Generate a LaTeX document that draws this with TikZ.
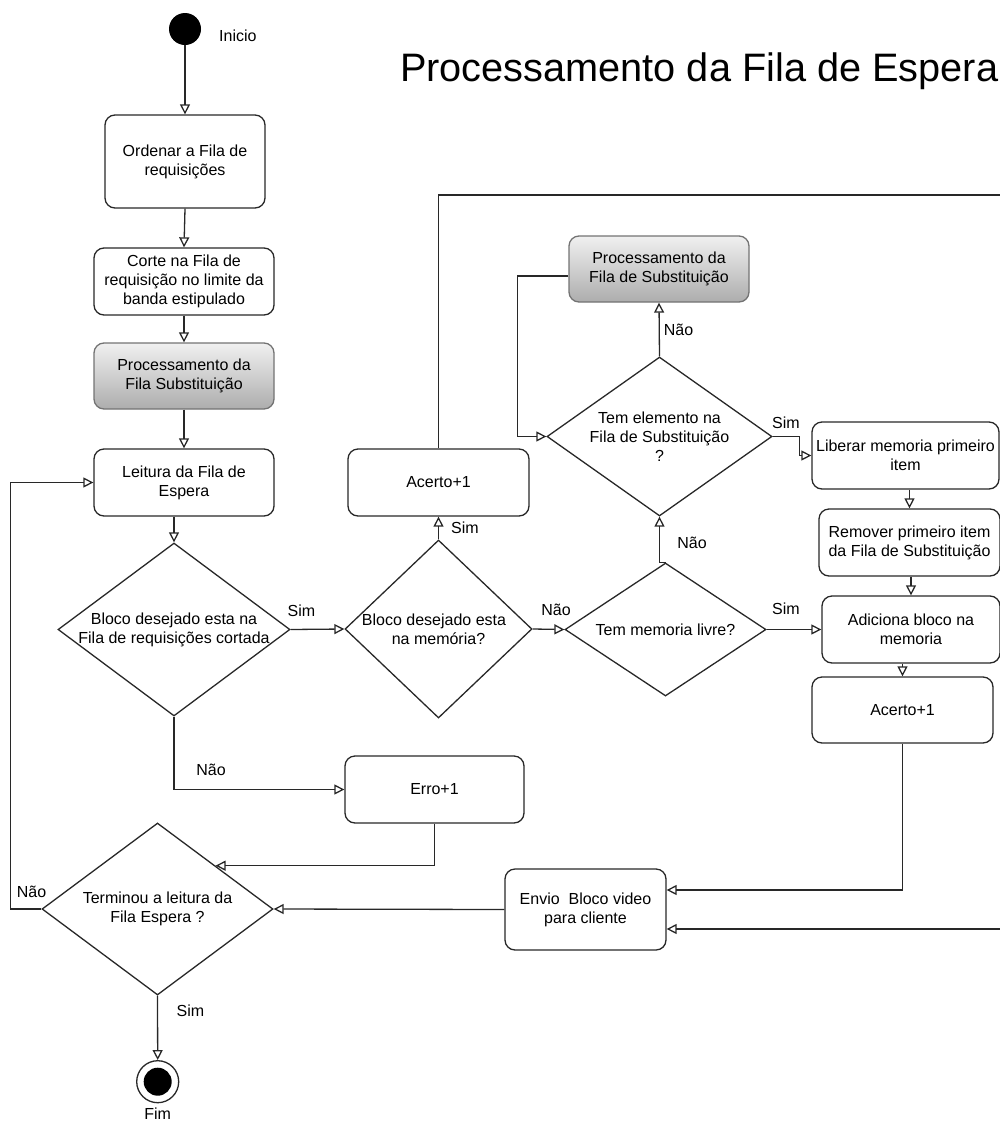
\documentclass[tikz,border=0pt]{standalone}
\usepackage{fontspec}
\setmainfont{Liberation Sans}
\usetikzlibrary{shapes.geometric,arrows.meta,calc}
\definecolor{ink}{RGB}{40,40,40}
\begin{document}
\begin{tikzpicture}[x=1pt,y=-1pt,
  every node/.style={font=\fontsize{16}{19}\selectfont},
  act/.style={draw=ink, line width=1.3pt, rounded corners=10pt, align=center, inner sep=2pt, fill=white},
  proc/.style={act, draw=black!55, top color=black!6, bottom color=black!32},
  dia/.style={diamond, draw=ink, line width=1.3pt, inner sep=0pt, fill=white},
  txt/.style={align=center, inner sep=0pt},
  lbl/.style={inner sep=0pt},
  flow/.style={draw=ink, line width=1.3pt, -{Triangle[open,length=10pt,width=10pt]}},
  line/.style={draw=ink, line width=1.3pt},
]
\useasboundingbox (0,0) rectangle (1000,1122);
\clip (0,0) rectangle (1000,1122);

% title
\node[lbl, anchor=base west, font=\fontsize{39.7}{46}\selectfont] (title) at (400,81.7) {Processamento da Fila de Espera};

% start / end
\node[circle, fill=black, minimum size=32pt, inner sep=0pt] (start) at (185,29) {};
\node[lbl, anchor=base west] (ini) at (219,41.7) {Inicio};
\node[circle, draw=ink, line width=1.3pt, fill=white, minimum size=42pt, inner sep=0pt] (fim) at (157.7,1081.7) {};
\node[circle, fill=black, minimum size=28pt, inner sep=0pt] (fimdot) at (fim) {};
\node[lbl, anchor=base] (fimtxt) at (157.7,1119.5) {Fim};

% left column
\node[act, minimum width=160pt, minimum height=93pt] (ord) at (185,161.5) {Ordenar a Fila de\\requisições};
\node[act, minimum width=180pt, minimum height=67pt] (corte) at (184,281.5) {Corte na Fila de\\requisição no limite da\\banda estipulado};
\node[proc, minimum width=180pt, minimum height=66pt] (psub) at (184,376) {Processamento da\\Fila Substituição};
\node[act, minimum width=180pt, minimum height=67pt] (leit) at (184,482.5) {Leitura da Fila de\\Espera};

% decisions
\node[dia, minimum width=232pt, minimum height=173pt] (d1) at (174,629.5) {};
\node[txt] (d1t) at (d1) {Bloco desejado esta na\\Fila de requisições cortada};
\node[dia, minimum width=187pt, minimum height=178pt] (d2) at (438.5,629) {};
\node[txt] (d2t) at (d2) {Bloco desejado esta\kern9pt\\na memória?};
\node[dia, minimum width=201pt, minimum height=133pt] (d3) at (665.5,629.5) {};
\node[txt] (d3t) at (d3) {Tem memoria livre?};
\node[dia, minimum width=225pt, minimum height=159pt] (d4) at (659.5,436.5) {};
\node[txt] (d4t) at (d4) {Tem elemento na\\Fila de Substituição\\?};
\node[dia, minimum width=231pt, minimum height=172pt] (d5) at (157.5,909) {};
\node[txt] (d5t) at (d5) {Terminou a leitura da\\Fila Espera ?};

% actions
\node[act, minimum width=181pt, minimum height=67pt] (ac1) at (438.5,482.5) {Acerto+1};
\node[proc, minimum width=180pt, minimum height=66pt] (psub2) at (659,269) {Processamento da\\Fila de Substituição};
\node[act, minimum width=187pt, minimum height=67pt] (lib) at (905.5,455.5) {Liberar memoria primeiro\\item};
\node[act, minimum width=181pt, minimum height=67pt] (rem) at (909.5,542.5) {Remover primeiro item\\da Fila de Substituição};
\node[act, minimum width=178pt, minimum height=67pt] (adic) at (911,629.5) {Adiciona bloco na\\memoria};
\node[act, minimum width=181pt, minimum height=66pt] (ac2) at (902.5,710) {Acerto+1};
\node[act, minimum width=179pt, minimum height=67pt] (erro) at (434.5,789.5) {Erro+1};
\node[act, minimum width=161pt, minimum height=81pt] (envio) at (585.5,909.5) {Envio~ Bloco video\\para cliente};

% off-page return path
\coordinate (farA) at (1010,195);
\coordinate (farB) at (1010,929);

% connectors
\draw[flow] (start.south) -- (ord.north);
\draw[flow] (ord.south) -- (corte.north);
\draw[flow] (corte.south) -- (psub.north);
\draw[flow] (psub.south) -- (leit.north);
\draw[flow] (leit.south -| d1.north) -- (d1.north);
\draw[flow] (d1.east) -- (d2.west);
\draw[flow] (d1.south) |- (erro.west);
\draw[flow] (d2.north) -- (ac1.south);
\draw[flow] (d2.east) -- (d3.west);
\draw[flow] (d3.east) -- (adic.west);
\draw[flow] (d3.north) -- ++(-6,0) -- (d4.south);
\draw[flow] (d4.north) -- (psub2.south);
\draw[flow] ([yshift=-7pt]psub2.west) -- ++(-51,0) |- (d4.west);
\draw[flow] (d4.east) -- ++(27,0) |- (lib.west);
\draw[flow] (rem.north |- lib.south) -- (rem.north);
\draw[flow] (adic.north |- rem.south) -- (adic.north);
\draw[flow] (ac2.north |- adic.south) -- (ac2.north);
\draw[flow] (ac2.south) |- ([yshift=19.5pt]envio.east);
\draw[flow] (ac1.north) |- (farA) -- (farB) -- ([yshift=-19.5pt]envio.east);
\draw[flow] (erro.south) |- (d5.north east);
\draw[flow] (envio.west) -- (d5.east);
\draw[flow] (d5.west) -- ++(-31,0) |- (leit.west);
\draw[flow] (d5.south) -- (fim.north);

% branch labels
\node[lbl] (l1) at (301.5,610.5) {Sim};
\node[lbl] (l2) at (211,770) {Não};
\node[lbl] (l3) at (465,527.5) {Sim};
\node[lbl] (l4) at (556,610) {Não};
\node[lbl] (l5) at (786,609) {Sim};
\node[lbl] (l6) at (692,543) {Não};
\node[lbl] (l7) at (678.5,329.5) {Não};
\node[lbl] (l8) at (786,423) {Sim};
\node[lbl] (l9) at (31.5,892) {Não};
\node[lbl] (l10) at (190.5,1010.5) {Sim};
\end{tikzpicture}
\end{document}
